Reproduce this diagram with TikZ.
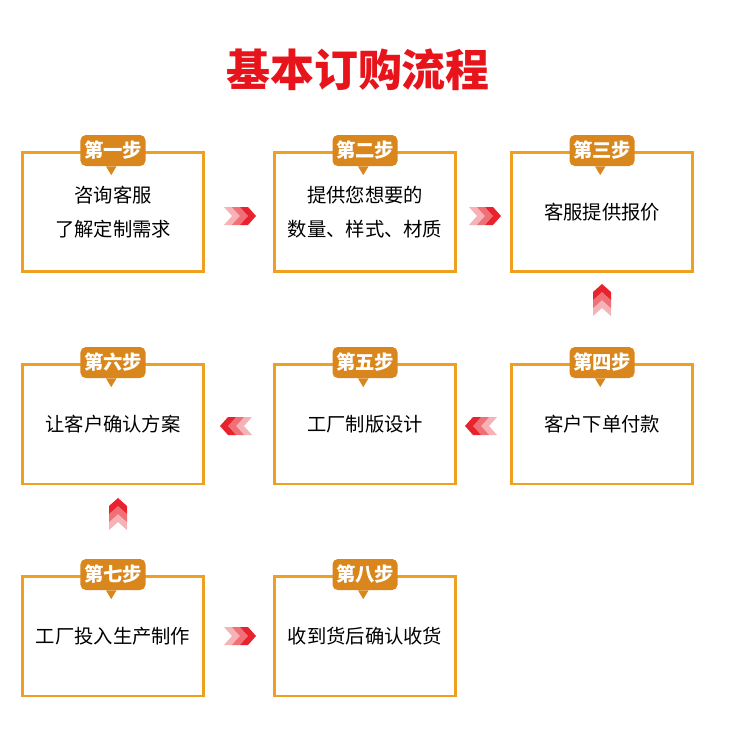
\documentclass[tikz,border=0pt]{standalone}
\usepackage{fontspec}
\newfontfamily\cjk{Noto Sans CJK SC}
\usetikzlibrary{positioning,shapes}
\definecolor{boxorange}{HTML}{F0A020}
\definecolor{badge}{HTML}{D9861C}
\definecolor{titlered}{HTML}{E8141C}
\definecolor{chevred}{HTML}{E8232E}

\begin{document}
\begin{tikzpicture}[x=0.02cm, y=-0.02cm,
  stepbox/.style={draw=boxorange, line width=1.7pt, fill=white, minimum width=3.62cm,
    minimum height=2.4cm, align=center, font=\cjk\fontsize{11}{19}\selectfont},
  tag/.style={fill=badge, rounded corners=3pt, text=white, inner sep=2pt,
    minimum width=1.25cm, minimum height=0.62cm, font=\cjk\bfseries\fontsize{11}{12}\selectfont},
  chev/.style={fill=chevred, draw=none},
]
  \useasboundingbox (0,0) rectangle (750,750);
  \node[text=titlered, font=\cjk\bfseries\fontsize{25}{28}\selectfont] (title) at (358,70) {基本订购流程};

  \node[stepbox] (s1) at (113,212) {咨询客服\\了解定制需求};
  \node[stepbox] (s2) at (365,212) {提供您想要的\\数量、样式、材质};
  \node[stepbox] (s3) at (602,212) {客服提供报价};
  \node[stepbox] (s4) at (602,424) {客户下单付款};
  \node[stepbox] (s5) at (365,424) {工厂制版设计};
  \node[stepbox] (s6) at (113,424) {让客户确认方案};
  \node[stepbox] (s7) at (113,636) {工厂投入生产制作};
  \node[stepbox] (s8) at (365,636) {收到货后确认收货};

  % badges
  \foreach \s/\t in {s1/第一步, s2/第二步, s3/第三步, s4/第四步,
                     s5/第五步, s6/第六步, s7/第七步, s8/第八步} {
    \node[tag] (\s-tag) at (\s.north) {\t};
    \fill[badge] ([xshift=-4pt]\s-tag.south) -- ++(6pt,0) -- ++(-3pt,-5pt) -- cycle;
  }

  % chevrons
  \foreach \x/\y/\r in {238/216/0, 483/216/0, 602/302/90, 483/426/180,
                        238/426/180, 118/516/90, 238/636/0} {
    \begin{scope}[shift={(\x,\y)}, rotate=\r]
      \foreach \d/\o in {-8/0.35, 0/0.65, 8/1} {
        \fill[chev, opacity=\o] (\d-6,-9) -- (\d+2,-9) -- (\d+10,0) -- (\d+2,9) -- (\d-6,9) -- (\d+2,0) -- cycle;
      }
    \end{scope}
  }
\end{tikzpicture}
\end{document}
